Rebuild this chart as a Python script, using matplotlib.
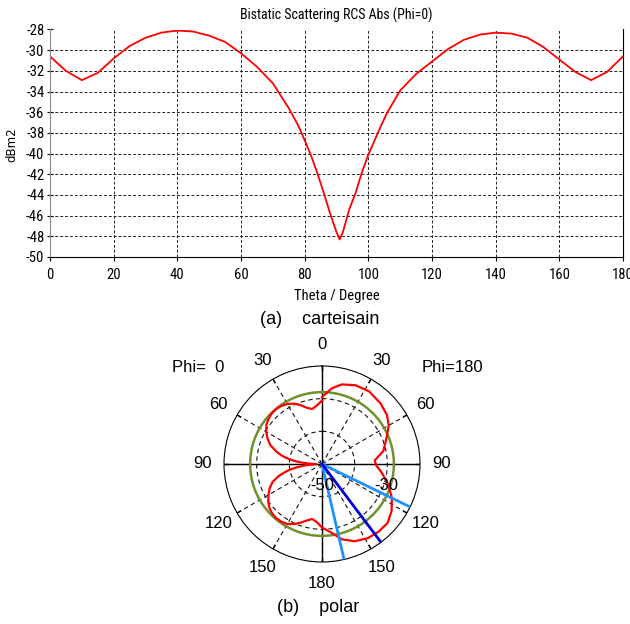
import numpy as np
import matplotlib
matplotlib.use("Agg")
import matplotlib.pyplot as plt
from matplotlib import font_manager as fm

plt.rcParams['axes.unicode_minus'] = False
names = {f.name for f in fm.fontManager.ttflist}
NARROW = "DejaVu Sans"
for cand in ["Liberation Sans Narrow", "DejaVu Sans Condensed", "Roboto Condensed",
             "Open Sans Condensed", "Roboto"]:
    if cand in names:
        NARROW = cand
        break
ARIAL = "Liberation Sans"

# ---------------- data ----------------
theta_phi0 = [0, 5, 10, 15, 20, 25, 30, 35, 40, 45, 50, 55, 60, 65, 70, 75, 78, 80, 82, 84,
              86, 88, 90, 91, 92, 94, 96, 98, 100, 102, 104, 106, 110, 115, 120, 125, 130,
              135, 140, 145, 150, 155, 160, 165, 170, 175, 180]
rcs_phi0 = [-30.6, -32.0, -32.9, -32.2, -30.8, -29.6, -28.8, -28.3, -28.1, -28.2, -28.6,
            -29.2, -30.3, -31.6, -33.2, -35.6, -37.3, -38.7, -40.2, -41.9, -43.8, -45.8,
            -47.6, -48.3, -47.6, -45.4, -43.8, -41.8, -40.1, -38.7, -37.3, -36.0, -33.9,
            -32.3, -31.1, -29.9, -29.0, -28.5, -28.3, -28.4, -28.8, -29.7, -30.9, -32.1,
            -32.9, -32.1, -30.6]

theta_phi180 = [0, 7.5, 14, 23, 33, 44, 53, 60, 67.6, 78, 86, 91, 98, 107, 116, 124, 132,
                140, 148, 157, 165, 172, 180]
rcs_phi180 = [-29.5, -26.6, -24.9, -23.8, -23.5, -24.2, -25.1, -26.4, -28.6, -30.8, -33.8,
              -33.5, -31.6, -28.8, -26.2, -24.3, -23.0, -23.0, -23.3, -24.3, -26.1, -28.7,
              -30.6]

green_level = -28.0
beam_edges = [116, 167]
beam_main = [143]

xticks = list(range(0, 181, 20))
yticks = list(range(-50, -27, 2))
polar_angles = list(range(0, 360, 30))
polar_labels = ['0', '30', '60', '90', '120', '150', '180', '150', '120', '90', '60', '30']

# ---------------- figure ----------------
W, H = 630, 624
fig = plt.figure(figsize=(W / 100, H / 100), dpi=100)
fig.patch.set_facecolor('white')

def fx(px):
    return px / W

def fy(py):
    return 1 - py / H

# Cartesian chart
L, R, T, B = 50, 623, 29.5, 257
ax = fig.add_axes([fx(L), fy(B), (R - L) / W, (B - T) / H])
ax.plot(theta_phi0, rcs_phi0, color='#ff0000', lw=1.3)
ax.set_xlim(0, 180)
ax.set_ylim(-50, -28)
ax.set_xticks(xticks)
ax.set_yticks(yticks)
ax.grid(True, color='#222222', ls=(0, (3, 2)), lw=0.7)
ax.spines['top'].set_visible(False)
ax.spines['left'].set_color('#888888')
ax.spines['bottom'].set_color('#000000')
ax.spines['right'].set_color('#000000')
ax.tick_params(axis='y', direction='inout', length=4, width=0.8, labelsize=10.5, pad=2)
ax.tick_params(axis='x', direction='out', length=3, width=0.8, labelsize=10.5, pad=5)
for lab in ax.get_xticklabels() + ax.get_yticklabels():
    lab.set_fontfamily(NARROW)
ax.set_title('Bistatic Scattering RCS Abs (Phi=0)', fontfamily=NARROW, fontsize=10, pad=7)
ax.set_xlabel('Theta / Degree', fontfamily=NARROW, fontsize=10.5, labelpad=5)
ax.set_ylabel('')
fig.text(fx(12), fy(145), 'dBm2', fontfamily='DejaVu Sans', fontsize=8.5, rotation=90,
         ha='center', va='center')
ax.set_axisbelow(True)

fig.text(fx(320), fy(320), '(a)    carteisain', fontfamily=ARIAL, fontsize=13,
         ha='center', va='center')

# Polar chart
cx, cy, rad = 322, 464, 98
pax = fig.add_axes([fx(cx - rad), fy(cy + rad), 2 * rad / W, 2 * rad / H],
                   projection='polar')
pax.set_theta_zero_location('N')
pax.set_theta_direction(-1)
pax.set_ylim(-50, -20)
pax.set_thetagrids(polar_angles, polar_labels, fontfamily=ARIAL, fontsize=12)
pax.set_rgrids([-40, -30], labels=['', ''])
pax.grid(True, color='#111111', ls=(0, (4, 3)), lw=0.8)
pax.spines['polar'].set_linewidth(0.8)
pax.tick_params(axis='x', pad=5)

for a in [0, 90, 180, 270]:
    pax.plot(np.deg2rad([a, a]), [-50, -20], color='black', lw=1.0, zorder=2)
for a in polar_angles:
    pax.plot(np.deg2rad([a, a]), [-21.2, -20], color='black', lw=1.0, zorder=2)

circ = np.linspace(0, 2 * np.pi, 361)
pax.plot(circ, np.full_like(circ, green_level), color='#6f922e', lw=1.8, zorder=3)

ang_loop = np.deg2rad(list(theta_phi180) + [360 - t for t in theta_phi0[::-1]])
r_loop = list(rcs_phi180) + list(rcs_phi0[::-1])
pax.plot(ang_loop, r_loop, color='#ff0000', lw=1.6, zorder=4)

for a in beam_edges:
    pax.plot(np.deg2rad([a, a]), [-50, -20], color='#1e90ff', lw=2.0, zorder=5)
for a in beam_main:
    pax.plot(np.deg2rad([a, a]), [-50, -20], color='#0000dd', lw=2.0, zorder=5)

fig.text(fx(322), fy(486), '-50', fontfamily=ARIAL, fontsize=12, ha='center', va='center')
fig.text(fx(386), fy(485), '-30', fontfamily=ARIAL, fontsize=12, ha='center', va='center')
fig.text(fx(198), fy(368), 'Phi=  0', fontfamily=ARIAL, fontsize=12, ha='center', va='center')
fig.text(fx(452), fy(368), 'Phi=180', fontfamily=ARIAL, fontsize=12, ha='center', va='center')
fig.text(fx(318), fy(607), '(b)    polar', fontfamily=ARIAL, fontsize=13,
         ha='center', va='center')

fig.savefig('out.png', dpi=100, facecolor='white')
